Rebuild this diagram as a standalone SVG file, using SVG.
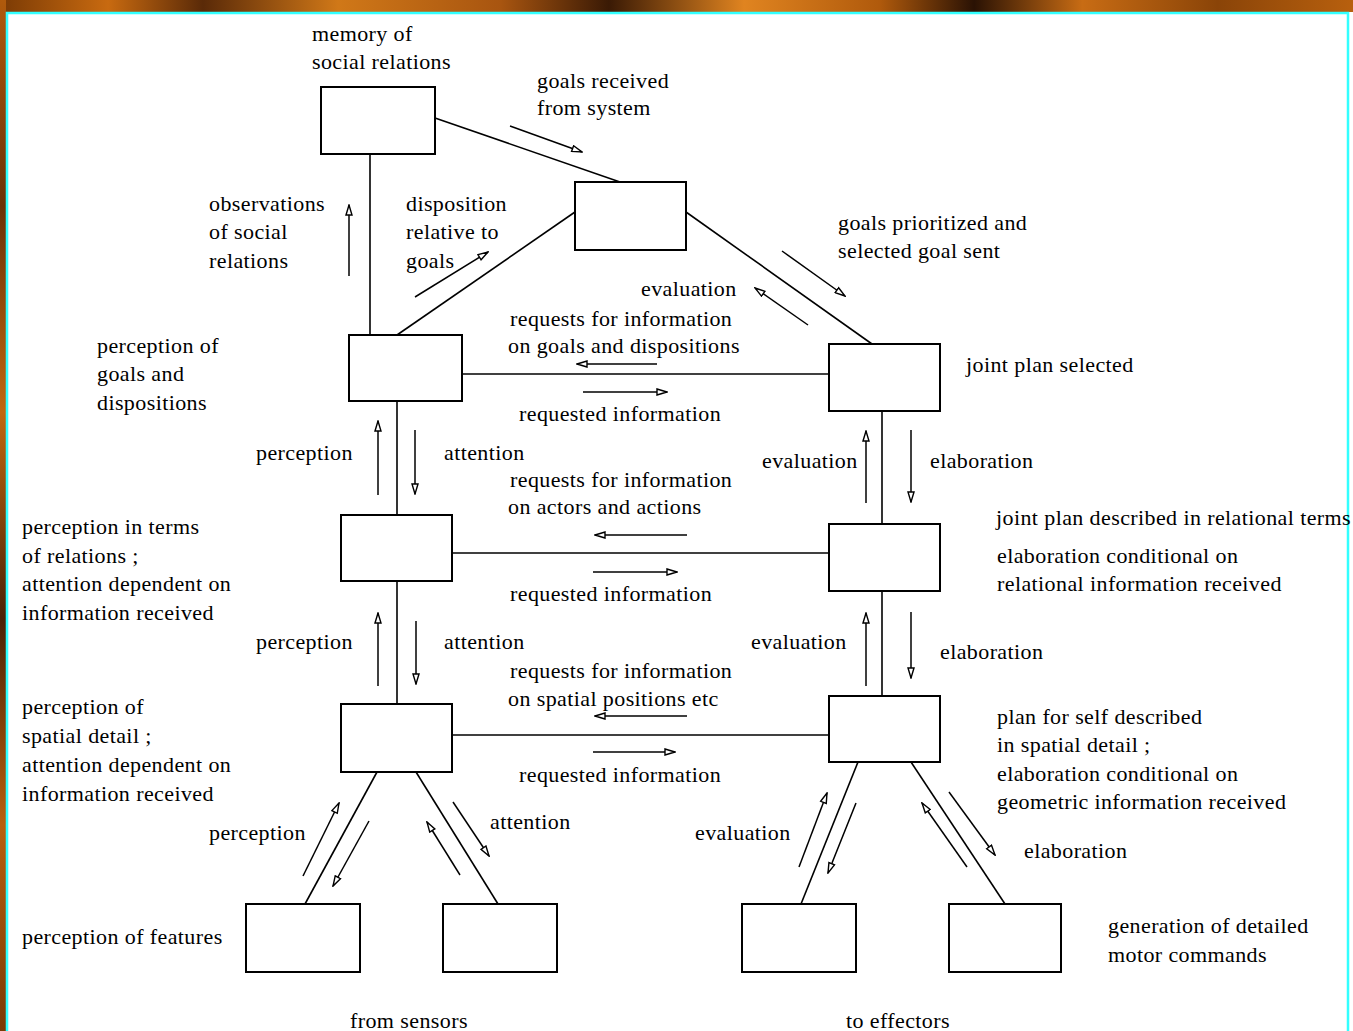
<svg xmlns="http://www.w3.org/2000/svg" width="1353" height="1031" viewBox="0 0 1353 1031">
<defs>
<linearGradient id="wood" x1="0" y1="0" x2="1" y2="0">
<stop offset="0" stop-color="#7a3a05"/><stop offset="0.08" stop-color="#c86a10"/><stop offset="0.15" stop-color="#5a2a08"/><stop offset="0.25" stop-color="#d07818"/><stop offset="0.37" stop-color="#a85510"/><stop offset="0.45" stop-color="#3a1a05"/><stop offset="0.55" stop-color="#e08420"/><stop offset="0.65" stop-color="#b05a0c"/><stop offset="0.72" stop-color="#2a1204"/><stop offset="0.8" stop-color="#c86c14"/><stop offset="0.9" stop-color="#8a4408"/><stop offset="1" stop-color="#b8600e"/>
</linearGradient>
<linearGradient id="woodv" x1="0" y1="0" x2="0" y2="1">
<stop offset="0" stop-color="#b05a0c"/><stop offset="0.2" stop-color="#6a3208"/><stop offset="0.4" stop-color="#c06810"/><stop offset="0.6" stop-color="#4a2206"/><stop offset="0.8" stop-color="#b8600e"/><stop offset="1" stop-color="#7a3a05"/>
</linearGradient>
<marker id="ah" viewBox="0 0 12 8" refX="11" refY="4" markerWidth="12" markerHeight="8" markerUnits="userSpaceOnUse" orient="auto">
<path d="M1,1 L11,4 L1,7 Z" fill="#fff" stroke="#000" stroke-width="1.4"/>
</marker>
<style>
text{font-family:"Liberation Serif","DejaVu Serif",serif;font-size:22px;letter-spacing:0.4px;fill:#000}
.box{fill:#fff;stroke:#000;stroke-width:2}
.ln{stroke:#000;stroke-width:1.6;fill:none}
.ar{stroke:#000;stroke-width:1.5;fill:none;marker-end:url(#ah)}
</style>
</defs>
<rect x="0" y="0" width="1353" height="1031" fill="#fff"/>
<rect x="0" y="0" width="1353" height="12" fill="url(#wood)"/>
<rect x="0" y="0" width="6" height="1031" fill="url(#woodv)"/>
<rect x="7" y="13" width="1341" height="1030" fill="none" stroke="#33ffff" stroke-width="2.5"/>

<g id="connectors">
<line class="ln" x1="370" y1="154" x2="370" y2="335"/>
<line class="ln" x1="435" y1="118" x2="620" y2="182"/>
<line class="ln" x1="575" y1="212" x2="397" y2="335"/>
<line class="ln" x1="686" y1="212" x2="872" y2="344"/>
<line class="ln" x1="462" y1="374" x2="829" y2="374"/>
<line class="ln" x1="397" y1="401" x2="397" y2="515"/>
<line class="ln" x1="882" y1="411" x2="882" y2="524"/>
<line class="ln" x1="452" y1="553" x2="829" y2="553"/>
<line class="ln" x1="397" y1="581" x2="397" y2="704"/>
<line class="ln" x1="882" y1="591" x2="882" y2="696"/>
<line class="ln" x1="452" y1="735" x2="829" y2="735"/>
<line class="ln" x1="377" y1="772" x2="305" y2="904"/>
<line class="ln" x1="416" y1="772" x2="498" y2="904"/>
<line class="ln" x1="858" y1="762" x2="801" y2="904"/>
<line class="ln" x1="911" y1="762" x2="1005" y2="904"/>

<line class="ar" x1="349" y1="276" x2="349" y2="205"/>
<line class="ar" x1="510" y1="126" x2="582" y2="152"/>
<line class="ar" x1="415" y1="297" x2="488" y2="252"/>
<line class="ar" x1="782" y1="251" x2="845" y2="296"/>
<line class="ar" x1="808" y1="325" x2="755" y2="288"/>
<line class="ar" x1="657" y1="364" x2="577" y2="364"/>
<line class="ar" x1="583" y1="392" x2="667" y2="392"/>
<line class="ar" x1="378" y1="495" x2="378" y2="421"/>
<line class="ar" x1="415" y1="430" x2="415" y2="494"/>
<line class="ar" x1="687" y1="535" x2="595" y2="535"/>
<line class="ar" x1="593" y1="572" x2="677" y2="572"/>
<line class="ar" x1="378" y1="686" x2="378" y2="613"/>
<line class="ar" x1="416" y1="621" x2="416" y2="684"/>
<line class="ar" x1="687" y1="716" x2="595" y2="716"/>
<line class="ar" x1="593" y1="752" x2="675" y2="752"/>
<line class="ar" x1="866" y1="503" x2="866" y2="431"/>
<line class="ar" x1="911" y1="430" x2="911" y2="502"/>
<line class="ar" x1="866" y1="686" x2="866" y2="613"/>
<line class="ar" x1="911" y1="612" x2="911" y2="678"/>
<line class="ar" x1="303" y1="876" x2="339" y2="803"/>
<line class="ar" x1="369" y1="821" x2="333" y2="886"/>
<line class="ar" x1="460" y1="875" x2="427" y2="822"/>
<line class="ar" x1="453" y1="802" x2="489" y2="856"/>
<line class="ar" x1="799" y1="867" x2="827" y2="793"/>
<line class="ar" x1="856" y1="803" x2="828" y2="873"/>
<line class="ar" x1="967" y1="867" x2="922" y2="803"/>
<line class="ar" x1="949" y1="792" x2="995" y2="855"/>
</g>

<g id="memory"><rect class="box" x="321" y="87" width="114" height="67"/></g>
<g id="goals"><rect class="box" x="575" y="182" width="111" height="68"/></g>
<g id="perception-goals"><rect class="box" x="349" y="335" width="113" height="66"/></g>
<g id="joint-plan"><rect class="box" x="829" y="344" width="111" height="67"/></g>
<g id="perception-relations"><rect class="box" x="341" y="515" width="111" height="66"/></g>
<g id="joint-plan-relational"><rect class="box" x="829" y="524" width="111" height="67"/></g>
<g id="perception-spatial"><rect class="box" x="341" y="704" width="111" height="68"/></g>
<g id="plan-self"><rect class="box" x="829" y="696" width="111" height="66"/></g>
<g id="features-1"><rect class="box" x="246" y="904" width="114" height="68"/></g>
<g id="features-2"><rect class="box" x="443" y="904" width="114" height="68"/></g>
<g id="motor-1"><rect class="box" x="742" y="904" width="114" height="68"/></g>
<g id="motor-2"><rect class="box" x="949" y="904" width="112" height="68"/></g>

<g id="labels">
<text x="312" y="41">memory of</text>
<text x="312" y="69">social relations</text>
<text x="537" y="88">goals received</text>
<text x="537" y="115">from system</text>
<text x="209" y="211">observations</text>
<text x="209" y="239">of social</text>
<text x="209" y="268">relations</text>
<text x="406" y="211">disposition</text>
<text x="406" y="239">relative to</text>
<text x="406" y="268">goals</text>
<text x="838" y="230">goals prioritized and</text>
<text x="838" y="258">selected goal sent</text>
<text x="641" y="296">evaluation</text>
<text x="510" y="326">requests for information</text>
<text x="508" y="353">on goals and dispositions</text>
<text x="966" y="372">joint plan selected</text>
<text x="97" y="353">perception of</text>
<text x="97" y="381">goals and</text>
<text x="97" y="410">dispositions</text>
<text x="519" y="421">requested information</text>
<text x="256" y="460">perception</text>
<text x="444" y="460">attention</text>
<text x="762" y="468">evaluation</text>
<text x="930" y="468">elaboration</text>
<text x="510" y="487">requests for information</text>
<text x="508" y="514">on actors and actions</text>
<text x="996" y="525">joint plan described in relational terms</text>
<text x="22" y="534">perception in terms</text>
<text x="22" y="563">of relations ;</text>
<text x="22" y="591">attention dependent on</text>
<text x="22" y="620">information received</text>
<text x="997" y="563">elaboration conditional on</text>
<text x="997" y="591">relational information received</text>
<text x="510" y="601">requested information</text>
<text x="256" y="649">perception</text>
<text x="444" y="649">attention</text>
<text x="751" y="649">evaluation</text>
<text x="940" y="659">elaboration</text>
<text x="510" y="678">requests for information</text>
<text x="508" y="706">on spatial positions etc</text>
<text x="22" y="714">perception of</text>
<text x="22" y="743">spatial detail  ;</text>
<text x="22" y="772">attention dependent on</text>
<text x="22" y="801">information received</text>
<text x="997" y="724">plan for self described</text>
<text x="997" y="752">in spatial detail ;</text>
<text x="997" y="781">elaboration conditional on</text>
<text x="997" y="809">geometric information received</text>
<text x="519" y="782">requested information</text>
<text x="209" y="840">perception</text>
<text x="490" y="829">attention</text>
<text x="695" y="840">evaluation</text>
<text x="1024" y="858">elaboration</text>
<text x="22" y="944">perception of features</text>
<text x="1108" y="933">generation of detailed</text>
<text x="1108" y="962">motor commands</text>
<text x="350" y="1028">from sensors</text>
<text x="846" y="1028">to effectors</text>
</g>
</svg>
